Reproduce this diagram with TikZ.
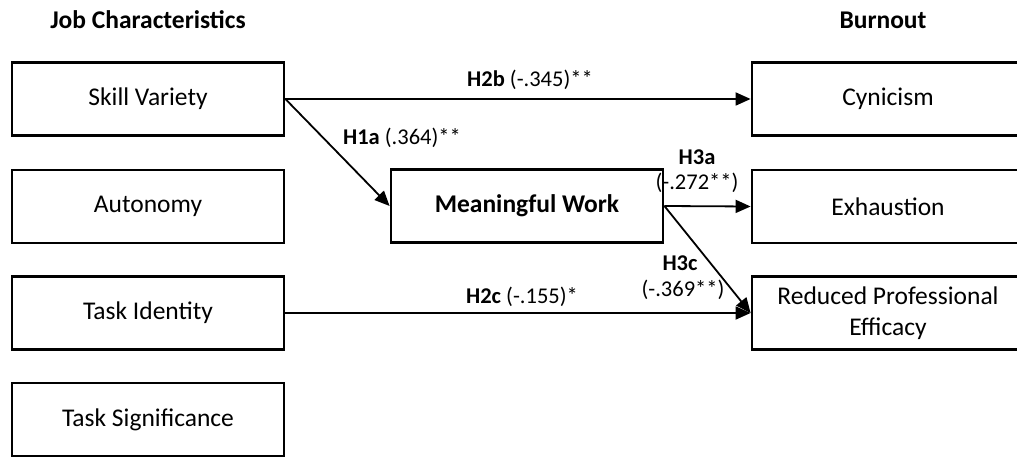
\documentclass[tikz,border=0pt]{standalone}
\usepackage{fontspec}
\setmainfont{Carlito}
\usetikzlibrary{arrows.meta}
\begin{document}
\begin{tikzpicture}[x=1pt,y=-1pt,
  box/.style={draw, line width=2.8pt, minimum width=272pt, minimum height=73pt,
    inner sep=2pt, align=center, font=\fontsize{25.5}{31}\selectfont},
  head/.style={font=\fontsize{25.5}{29}\selectfont\bfseries},
  lbl/.style={font=\fontsize{22.5}{26}\selectfont, inner sep=0pt},
  path/.style={line width=1.8pt, -{Triangle[length=15pt,width=13pt]}}]
\useasboundingbox (0,0) rectangle (1017,457);

% column headings
\node[head] (hjc) at (148,20) {Job Characteristics};
\node[head] (hbo) at (883,20) {Burnout};

% job characteristics
\node[box] (sv) at (148,99) {Skill Variety};
\node[box] (au) at (148,206.5) {Autonomy};
\node[box] (ti) at (148,313) {Task Identity};
\node[box] (ts) at (148,419.5) {Task Significance};

% mediator
\node[box, font=\fontsize{25.5}{31}\selectfont\bfseries] (mw) at (527,206) {Meaningful Work};

% burnout dimensions
\node[box] (cy) at (888,99) {Cynicism};
\node[box] (ex) at (888,206.5) {Exhaustion};
\node[box] (rp) at (888,313) {Reduced Professional\\Efficacy};

% paths
\draw[path] (sv.east) -- (cy.west);
\draw[path] (sv.east) -- (mw.west);
\draw[path] (mw.east) -- (ex.west);
\draw[path] (mw.east) -- (rp.west);
\draw[path] (ti.east) -- (rp.west);

% coefficients
\node[lbl] (l2b) at (530,80) {\textbf{H2b} (-.345)**};
\node[lbl] (l1a) at (402,138) {\textbf{H1a} (.364)**};
\node[lbl] (l3a) at (697,157) {\textbf{H3a}};
\node[lbl] (l3av) at (697,183) {(-.272**)};
\node[lbl] (l3c) at (680,263) {\textbf{H3c}};
\node[lbl] (l3cv) at (683,290) {(-.369**)};
\node[lbl] (l2c) at (522,297) {\textbf{H2c} (-.155)*};
\end{tikzpicture}
\end{document}
